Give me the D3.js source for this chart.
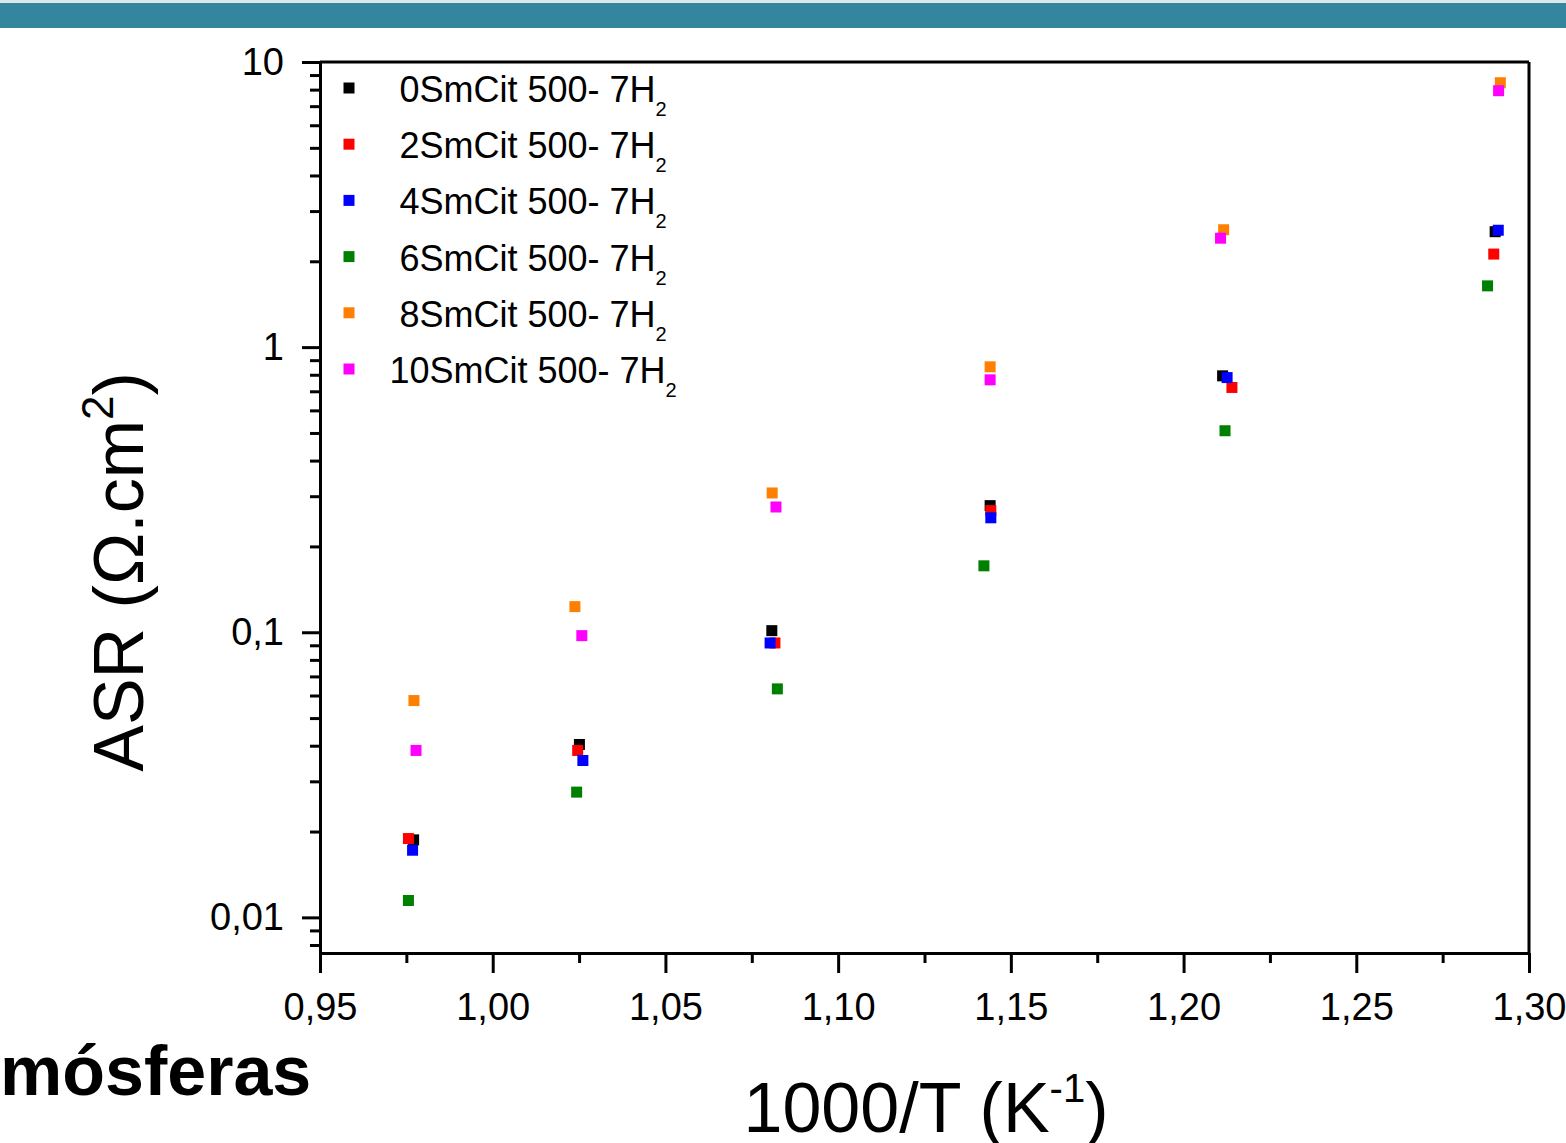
<!DOCTYPE html>
<meta charset="utf-8">
<style>
  body { margin: 0; background: #ffffff; }
  svg { display: block; }
  .axis path, .axis line { stroke: #000; stroke-width: 3px; }
  .axis text { font-family: 'Liberation Sans', Arial, sans-serif; font-size: 38px; fill: #000; }
</style>
<body>
<script src="https://cdn.jsdelivr.net/npm/d3@7"></script>
<script>

// series labels (prefix only, the "2" of H2 is drawn as a subscript)
var seriesNames = ["0SmCit 500- 7H", "2SmCit 500- 7H", "4SmCit 500- 7H",
                   "6SmCit 500- 7H", "8SmCit 500- 7H", "10SmCit 500- 7H"];
var seriesColors = ["#000000", "#ff0000", "#0000ff", "#008000", "#ff8000", "#ff00ff"];

// 1000/T values, one array per series
var x0Sm  = [0.9771, 1.0251, 1.0808, 1.1440, 1.2113, 1.2902];
var x2Sm  = [0.9756, 1.0246, 1.0817, 1.1442, 1.2140, 1.2898];
var x4Sm  = [0.9768, 1.0261, 1.0803, 1.1442, 1.2126, 1.2911];
var x6Sm  = [0.9756, 1.0243, 1.0824, 1.1422, 1.2120, 1.2880];
var x8Sm  = [0.9772, 1.0238, 1.0809, 1.1440, 1.2116, 1.2917];
var x10Sm = [0.9778, 1.0258, 1.0820, 1.1440, 1.2107, 1.2912];

// ASR values (ohm.cm2)
var asr0Sm  = [0.0187, 0.0404, 0.1013, 0.278, 0.793, 2.54];
var asr2Sm  = [0.0189, 0.0385, 0.0917, 0.267, 0.722, 2.12];
var asr4Sm  = [0.0172, 0.0355, 0.0917, 0.252, 0.782, 2.57];
var asr6Sm  = [0.01146, 0.0275, 0.0633, 0.171, 0.509, 1.64];
var asr8Sm  = [0.0576, 0.123, 0.308, 0.853, 2.58, 8.46];
var asr10Sm = [0.0385, 0.0973, 0.275, 0.768, 2.41, 7.93];

var xTicks = [0.95, 1.00, 1.05, 1.10, 1.15, 1.20, 1.25, 1.30];
var xMinorTicks = [0.975, 1.025, 1.075, 1.125, 1.175, 1.225, 1.275];
var yTicks = [0.01, 0.1, 1, 10];

var allX = [x0Sm, x2Sm, x4Sm, x6Sm, x8Sm, x10Sm];
var allY = [asr0Sm, asr2Sm, asr4Sm, asr6Sm, asr8Sm, asr10Sm];

var W = 1566, H = 1143;
var margin = {top: 62, right: 37, bottom: 190, left: 320},
    width = W - margin.left - margin.right,
    height = H - margin.top - margin.bottom;

var svg = d3.select("body").append("svg")
    .attr("width", W)
    .attr("height", H);

// header band
svg.append("rect").attr("x", 0).attr("y", 0).attr("width", W).attr("height", 3).attr("fill", "#dde8eb");
svg.append("rect").attr("x", 0).attr("y", 3).attr("width", W).attr("height", 25).attr("fill", "#33869d");

var g = svg.append("g")
    .attr("transform", "translate(" + margin.left + "," + margin.top + ")");

var x = d3.scaleLinear().domain([0.95, 1.30]).range([0, width]);
var y = d3.scaleLog().domain([0.0075, 10]).range([height, 0]);

// minor ticks on log axis: 2..9 of each decade
var yMinorTicks = [];
[0.001, 0.01, 0.1, 1].forEach(function(d) {
  for (var k = 2; k <= 9; k++) {
    var v = +(k * d).toPrecision(3);
    if (v >= y.domain()[0] && v <= y.domain()[1]) yMinorTicks.push(v);
  }
});

function comma(v) { return String(v).replace(".", ","); }

// frame (top + right)
g.append("line").attr("x1", 0).attr("x2", width).attr("y1", 0).attr("y2", 0)
  .attr("stroke", "#000").attr("stroke-width", 3);
g.append("line").attr("x1", width).attr("x2", width).attr("y1", 0).attr("y2", height)
  .attr("stroke", "#000").attr("stroke-width", 3);

// x axis
g.append("g").attr("class", "axis")
  .attr("transform", "translate(0," + height + ")")
  .call(d3.axisBottom(x).tickValues(xMinorTicks).tickSize(10).tickFormat(""))
  .select(".domain").remove();
g.append("g").attr("class", "axis")
  .attr("transform", "translate(0," + height + ")")
  .call(d3.axisBottom(x).tickValues(xTicks).tickSize(20).tickSizeOuter(0).tickPadding(20)
        .tickFormat(function(d) { return d3.format(".2f")(d).replace(".", ","); }));

// y axis
g.append("g").attr("class", "axis")
  .call(d3.axisLeft(y).tickValues(yMinorTicks).tickSize(10).tickFormat(""))
  .select(".domain").remove();
g.append("g").attr("class", "axis")
  .call(d3.axisLeft(y).tickValues(yTicks).tickSize(18).tickSizeOuter(0).tickPadding(18)
        .tickFormat(comma));

// data points
var sq = 11;
seriesNames.forEach(function(name, i) {
  var pts = allX[i].map(function(v, j) { return {x: v, y: allY[i][j]}; });
  g.selectAll(".pt" + i)
    .data(pts)
    .enter().append("rect")
    .attr("class", "pt" + i)
    .attr("x", function(d) { return x(d.x) - sq / 2; })
    .attr("y", function(d) { return y(d.y) - sq / 2; })
    .attr("width", sq)
    .attr("height", sq)
    .attr("fill", seriesColors[i]);
});

// legend
var legend = svg.append("g");
seriesNames.forEach(function(name, i) {
  var ly = 88 + i * 56.2;
  legend.append("rect")
    .attr("x", 349 - sq / 2).attr("y", ly - sq / 2)
    .attr("width", sq).attr("height", sq)
    .attr("fill", seriesColors[i]);
  var t = legend.append("text")
    .attr("x", 533).attr("y", ly + 14)
    .attr("text-anchor", "middle")
    .style("font-family", "'Liberation Sans', Arial, sans-serif")
    .style("font-size", "36px")
    .style("fill", "#000");
  t.append("tspan").text(name);
  t.append("tspan").attr("dy", 14).style("font-size", "20px").text("2");
});

// axis titles
var xt = svg.append("text")
  .attr("x", 926).attr("y", 1132)
  .attr("text-anchor", "middle")
  .style("font-family", "'Liberation Sans', Arial, sans-serif")
  .style("font-size", "70px");
xt.append("tspan").text("1000/T (K");
xt.append("tspan").attr("dy", -30).style("font-size", "40px").text("-1");
xt.append("tspan").attr("dy", 30).text(")");

var yt = svg.append("text")
  .attr("transform", "translate(143,572) rotate(-90)")
  .attr("text-anchor", "middle")
  .style("font-family", "'Liberation Sans', Arial, sans-serif")
  .style("font-size", "70px");
yt.append("tspan").text("ASR (\u03A9.cm");
yt.append("tspan").attr("dy", -30).style("font-size", "44px").text("2");
yt.append("tspan").attr("dy", 30).text(")");

// leftover slide text
svg.append("text")
  .attr("x", 0).attr("y", 1095)
  .style("font-family", "'Liberation Sans', Arial, sans-serif")
  .style("font-size", "70px")
  .style("font-weight", "bold")
  .text("mósferas");

</script>
</body>
